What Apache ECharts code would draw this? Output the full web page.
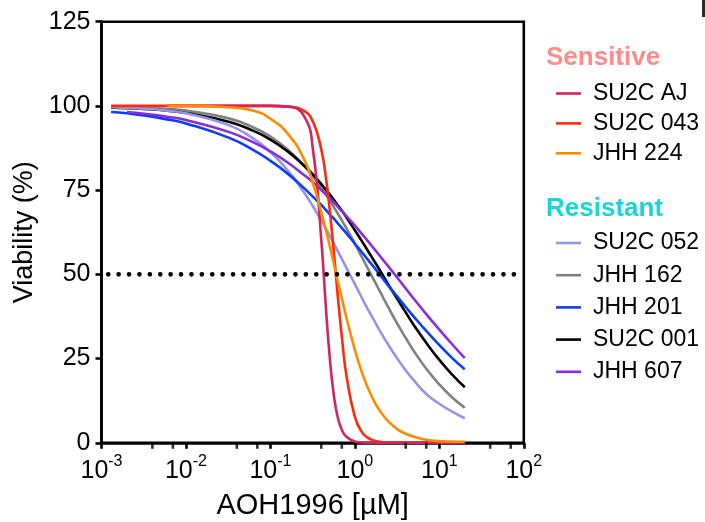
<!DOCTYPE html>
<html>
<head>
<meta charset="utf-8">
<script src="https://cdn.jsdelivr.net/npm/echarts@6/dist/echarts.min.js"></script>
<style>
  html, body { margin: 0; padding: 0; background: #fff; }
  #chart { width: 705px; height: 522px; }
</style>
</head>
<body>
<div id="chart"></div>
<script>
// ---- data ----
const doses = [0.0013, 0.002, 0.0032, 0.006, 0.01, 0.032, 0.063, 0.1, 0.16, 0.25, 0.32, 0.4, 0.45, 0.5, 0.56, 0.63, 0.71, 0.8, 1, 1.2, 1.4, 1.7, 2, 2.5, 3.2, 4, 5, 7, 10, 14, 20];

const su2cAJ  = [null, null, null, 100, 100, 100, 100, 100, 99.8, 97.0, 86.7, 60.3, 41.5, 26.3, 14.6, 7.3, 3.5, 1.7, 0.4, 0.1, 0, 0, 0, 0, 0, 0, 0, 0, 0, 0, 0];
const su2c043 = [100, 100, 100, 100, 100, 100, 100, 100, 99.8, 98.5, 95.2, 87.1, 79.4, 69.9, 57.4, 43.1, 30.1, 19.5, 7.7, 3.3, 1.6, 0.6, 0.3, 0, 0, 0, 0, 0, 0, 0, 0];
const jhh224  = [null, null, null, 100, 100, 99.6, 98.6, 96.2, 91.8, 84.2, 76.9, 68.5, 63.5, 58.8, 53.5, 47.8, 42.3, 36.9, 27.6, 21.2, 16.8, 12.2, 9.3, 6.3, 4.0, 2.7, 1.8, 0.9, 0.5, 0.35, 0.3];
const su2c052 = [99.6, 99.4, 99.2, 98.6, 97.8, 94.3, 90.3, 86.3, 80.9, 74.3, 70.1, 66.0, 63.7, 61.6, 59.3, 56.8, 54.3, 51.8, 47.1, 43.2, 40.0, 36.2, 33.0, 29.0, 24.9, 21.5, 18.5, 14.5, 11.6, 9.3, 7.3];
const jhh162  = [99.7, 99.6, 99.4, 99.1, 98.6, 96.3, 93.6, 90.9, 87.1, 82.2, 79.0, 75.7, 73.9, 72.1, 70.1, 68.0, 65.8, 63.5, 59.1, 55.3, 52.1, 48.1, 44.7, 40.1, 35.2, 31.1, 27.2, 22.0, 17.3, 13.6, 10.4];
const jhh201  = [98.2, 97.8, 97.2, 96.0, 94.8, 90.6, 86.9, 83.7, 79.9, 75.6, 73.0, 70.6, 69.2, 67.9, 66.6, 65.1, 63.6, 62.1, 59.1, 56.7, 54.6, 52.0, 49.7, 46.6, 43.3, 40.3, 37.4, 33.2, 29.0, 25.3, 21.8];
const su2c001 = [99.5, 99.3, 99.1, 98.6, 97.9, 95.3, 92.6, 90.0, 86.5, 82.3, 79.6, 76.8, 75.2, 73.8, 72.2, 70.4, 68.7, 66.8, 63.1, 60.0, 57.3, 53.9, 51.0, 46.9, 42.6, 38.7, 34.9, 29.7, 24.6, 20.4, 16.5];
const jhh607  = [null, 98.2, 97.7, 96.8, 95.8, 92.3, 89.2, 86.5, 83.2, 79.5, 77.3, 75.0, 73.8, 72.6, 71.4, 70.0, 68.6, 67.2, 64.5, 62.1, 60.1, 57.5, 55.3, 52.3, 48.9, 45.8, 42.7, 38.2, 33.6, 29.4, 25.1];

const sensitiveNames = ['SU2C AJ', 'SU2C 043', 'JHH 224'];
const resistantNames = ['SU2C 052', 'JHH 162', 'JHH 201', 'SU2C 001', 'JHH 607'];
const groupTitles = ['Sensitive', 'Resistant'];

const referenceLine = [[0.0012, 50], [80, 50]];
const xMajorTicks = [0.001, 0.01, 0.1, 1, 10, 100];
const xMinorTicks = [0.004, 0.007, 0.04, 0.07, 0.4, 0.7, 4, 7, 40, 70];
const yMin = 0, yMax = 125, yStep = 25;

// ---- styling ----
const FONT = 'Liberation Sans, Arial, Helvetica, sans-serif';
const colors = {
  'SU2C AJ': '#d4245e',
  'SU2C 043': '#ff2a0a',
  'JHH 224': '#ff8a00',
  'SU2C 052': '#9494ea',
  'JHH 162': '#808080',
  'JHH 201': '#0a3cff',
  'SU2C 001': '#000000',
  'JHH 607': '#8a2be2'
};
const valuesByName = {
  'SU2C AJ': su2cAJ, 'SU2C 043': su2c043, 'JHH 224': jhh224,
  'SU2C 052': su2c052, 'JHH 162': jhh162, 'JHH 201': jhh201,
  'SU2C 001': su2c001, 'JHH 607': jhh607
};
// drawing order (bottom -> top)
const drawOrder = ['JHH 162', 'SU2C 001', 'SU2C 052', 'JHH 201', 'JHH 607', 'SU2C 043', 'SU2C AJ', 'JHH 224'];

function pairs(vals) {
  const out = [];
  doses.forEach((d, i) => { if (vals[i] !== null) out.push([d, vals[i]]); });
  return out;
}

const curveSeries = drawOrder.map(name => ({
  name: name,
  type: 'line',
  data: pairs(valuesByName[name]),
  smooth: 0.5,
  showSymbol: false,
  symbol: 'none',
  lineStyle: { color: colors[name], width: 2.6 },
  itemStyle: { color: colors[name] },
  clip: false,
  z: 3
}));

const chart = echarts.init(document.getElementById('chart'), null, { renderer: 'canvas' });

const legendCommon = {
  orient: 'vertical',
  left: 556,
  padding: 0,
  icon: 'rect',
  itemWidth: 25,
  itemHeight: 2.6,
  selectedMode: false,
  textStyle: { fontFamily: FONT, fontSize: 23, color: '#000', padding: [0, 0, 0, 7] }
};

chart.setOption({
  animation: false,
  backgroundColor: '#fff',
  title: [
    { text: groupTitles[0], left: 546, top: 44.5, padding: 0,
      textStyle: { fontFamily: FONT, fontSize: 26, fontWeight: 'bold', color: '#ff8c8a' } },
    { text: groupTitles[1], left: 546, top: 196, padding: 0,
      textStyle: { fontFamily: FONT, fontSize: 26, fontWeight: 'bold', color: '#18d6d6' } }
  ],
  legend: [
    Object.assign({}, legendCommon, { data: sensitiveNames, top: 82, itemGap: 6.9 }),
    Object.assign({}, legendCommon, { data: resistantNames, top: 231.5, itemGap: 9.2 })
  ],
  grid: {
    left: 101.5, right: 181.2, top: 21.7, bottom: 79.2,
    containLabel: false,
    outerBoundsMode: 'none',
    show: true, borderColor: '#000', borderWidth: 2.6, backgroundColor: 'transparent'
  },
  xAxis: {
    type: 'log',
    logBase: 10,
    min: xMajorTicks[0],
    max: xMajorTicks[xMajorTicks.length - 1],
    name: 'AOH1996 [µM]',
    nameLocation: 'middle',
    nameGap: 49,
    nameTextStyle: { fontFamily: FONT, fontSize: 29, color: '#000' },
    axisLine: { show: true, lineStyle: { color: '#000', width: 2.6 } },
    axisTick: { show: true, inside: false, length: 6, lineStyle: { color: '#000', width: 2.6 } },
    splitLine: { show: false },
    axisLabel: {
      margin: 11,
      color: '#000',
      formatter: function (v) {
        return '{b|10}{s|' + Math.round(Math.log10(v)) + '}';
      },
      rich: {
        b: { fontFamily: FONT, fontSize: 25, lineHeight: 30, verticalAlign: 'bottom', color: '#000' },
        s: { fontFamily: FONT, fontSize: 16, lineHeight: 16, verticalAlign: 'top', color: '#000' }
      }
    }
  },
  yAxis: {
    type: 'value',
    min: yMin, max: yMax, interval: yStep,
    name: 'Viability (%)',
    nameLocation: 'middle',
    nameGap: 55,
    nameTextStyle: { fontFamily: FONT, fontSize: 27, color: '#000' },
    axisLine: { show: true, lineStyle: { color: '#000', width: 2.6 } },
    axisTick: { show: true, inside: false, length: 6, lineStyle: { color: '#000', width: 2.6 } },
    splitLine: { show: false },
    axisLabel: { margin: 11, fontFamily: FONT, fontSize: 25, color: '#000' }
  },
  series: curveSeries.concat([
    {
      name: 'minorTicks',
      type: 'scatter',
      data: xMinorTicks.map(v => [v, yMin]),
      symbol: 'rect',
      symbolSize: [2.6, 6],
      symbolOffset: [0, 3],
      itemStyle: { color: '#000' },
      silent: true,
      clip: false,
      z: 5
    },
    {
      name: 'IC50',
      type: 'line',
      data: referenceLine,
      symbol: 'none',
      lineStyle: { color: '#000', width: 4.6, type: [0.1, 10.3], cap: 'round' },
      silent: true,
      z: 6
    }
  ]),
  graphic: [
    { type: 'rect', right: 0, top: 0, shape: { width: 3, height: 17 }, style: { fill: '#2a2a2a' } }
  ]
});
</script>
</body>
</html>
